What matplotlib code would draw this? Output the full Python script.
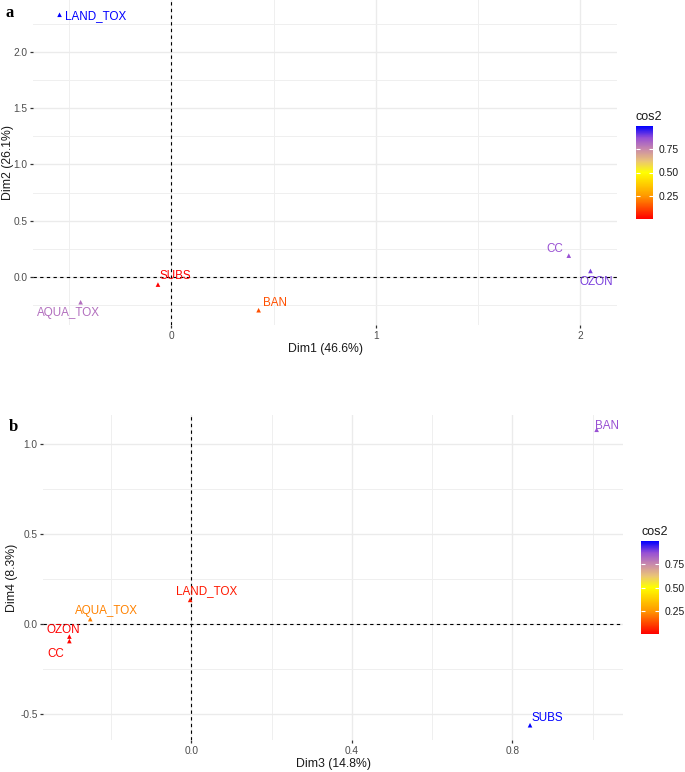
import matplotlib
matplotlib.use('Agg')
import matplotlib.pyplot as plt
from matplotlib.colors import LinearSegmentedColormap, Normalize

plt.rcParams['font.family'] = ['Liberation Sans', 'DejaVu Sans']

# données - panneau a (Dim1 / Dim2)
labels_a = ["LAND_TOX", "AQUA_TOX", "SUBS", "BAN", "CC", "OZON"]
dim1 = [-0.546, -0.443, -0.065, 0.427, 1.943, 2.049]
dim2 = [2.330, -0.225, -0.068, -0.296, 0.189, 0.053]
cos2_a = [0.99, 0.80, 0.01, 0.14, 0.86, 0.89]

# données - panneau b (Dim3 / Dim4)
labels_b = ["BAN", "SUBS", "LAND_TOX", "AQUA_TOX", "OZON", "CC"]
dim3 = [1.010, 0.844, -0.003, -0.252, -0.304, -0.304]
dim4 = [1.081, -0.562, 0.135, 0.028, -0.069, -0.094]
cos2_b = [0.86, 0.99, 0.05, 0.22, 0.01, 0.02]

# décalage des étiquettes (points) + alignement
offs_a = {"LAND_TOX": (4, -1, 'left'), "AQUA_TOX": (-9, -8, 'center'),
          "SUBS": (1, 6, 'left'), "BAN": (3, 5, 'left'),
          "CC": (-4, 5, 'right'), "OZON": (4, -8, 'center')}
offs_b = {"BAN": (-1, 3, 'left'), "SUBS": (1, 5, 'left'),
          "LAND_TOX": (12, 6, 'center'), "AQUA_TOX": (12, 6, 'center'),
          "OZON": (-4, 5, 'center'), "CC": (-10, -9, 'center')}

cmap = LinearSegmentedColormap.from_list("cos2", [
    (0.0, "#FF0000"), (0.25, "#FF9A00"), (0.5, "#FFFF00"), (0.625, "#EAC477"),
    (0.75, "#C98AAA"), (0.875, "#974FD5"), (1.0, "#0000FF")])

fig = plt.figure(figsize=(6.85, 7.72), dpi=100)


def draw_panel(rect, crect, xs, ys, cs, labels, offs, xt, yt, xminor, yminor,
               xlab, ylab, ylab_x, letter, letter_xy, xfmt):
    ax = fig.add_axes(rect)
    norm = Normalize(min(cs), max(cs))
    for s in ax.spines.values():
        s.set_visible(False)
    ax.set_xticks(xt)
    ax.set_yticks(yt)
    ax.set_xticks(xminor, minor=True)
    ax.set_yticks(yminor, minor=True)
    ax.set_xticklabels([xfmt(v) for v in xt])
    ax.set_yticklabels(["%.1f" % v for v in yt])
    ax.grid(True, which='major', color='#EBEBEB', lw=1.0)
    ax.grid(True, which='minor', color='#EFEFEF', lw=0.7)
    ax.set_axisbelow(True)
    ax.tick_params(which='major', length=2.5, width=0.9, color='#333333',
                   labelsize=7.3, labelcolor='#4D4D4D', pad=1.5)
    ax.tick_params(which='minor', length=0)
    ax.axhline(0, color='black', ls=(0, (3, 3)), lw=0.8)
    ax.axvline(0, color='black', ls=(0, (3, 3)), lw=0.8)
    ax.scatter(xs, ys, c=cs, cmap=cmap, norm=norm, marker='^', s=11, zorder=3,
               linewidths=0)
    for x, y, c, lab in zip(xs, ys, cs, labels):
        dx, dy, ha = offs[lab]
        ax.annotate(lab, (x, y), xytext=(dx, dy), textcoords='offset points',
                    ha=ha, va='center', fontsize=8.4, color=cmap(norm(c)))
    # marges comme ggplot (5 %)
    xr = max(xs) - min(xs)
    yr = max(ys) - min(ys)
    ax.set_xlim(min(xs) - 0.05 * xr, max(xs) + 0.05 * xr)
    ax.set_ylim(min(ys) - 0.05 * yr, max(ys) + 0.05 * yr)
    ax.set_xlabel(xlab, fontsize=8.8, color='#1A1A1A', labelpad=2)
    ax.set_ylabel(ylab, fontsize=8.8, color='#1A1A1A', va='center')
    ax.yaxis.set_label_coords(ylab_x, 0.5)

    cax = fig.add_axes(crect)
    sm = plt.cm.ScalarMappable(norm=norm, cmap=cmap)
    cb = fig.colorbar(sm, cax=cax, ticks=[0.25, 0.5, 0.75])
    cb.outline.set_visible(False)
    cb.ax.set_yticklabels(["0.25", "0.50", "0.75"])
    cax.tick_params(left=True, right=True, direction='in', color='white',
                    length=3, width=0.8, labelsize=7.5, labelcolor='#1A1A1A', pad=4)
    cax.set_title("cos2", fontsize=9, loc='left', color='#1A1A1A', pad=4)

    fig.text(letter_xy[0], letter_xy[1], letter, fontsize=12, weight='bold',
             family='Liberation Serif', ha='left', va='center')
    return ax


W, H = 685, 772
draw_panel([33 / W, 1 - 325 / H, 584 / W, 325 / H],
           [636 / W, 1 - 219 / H, 17 / W, 93 / H],
           dim1, dim2, cos2_a, labels_a, offs_a,
           [0, 1, 2], [0.0, 0.5, 1.0, 1.5, 2.0],
           [-0.5, 0.5, 1.5], [-0.25, 0.25, 0.75, 1.25, 1.75, 2.25],
           "Dim1 (46.6%)", "Dim2 (26.1%)", -25 / 584, "a", (5 / W, 1 - 13 / H),
           lambda v: "%d" % v)

draw_panel([43 / W, 1 - 740 / H, 580 / W, 325 / H],
           [641 / W, 1 - 634 / H, 18 / W, 93 / H],
           dim3, dim4, cos2_b, labels_b, offs_b,
           [0.0, 0.4, 0.8], [-0.5, 0.0, 0.5, 1.0],
           [-0.2, 0.2, 0.6, 1.0], [-0.25, 0.25, 0.75],
           "Dim3 (14.8%)", "Dim4 (8.3%)", -31 / 580, "b", (9 / W, 1 - 427 / H),
           lambda v: "%.1f" % v)

fig.savefig("out.png", dpi=100)
